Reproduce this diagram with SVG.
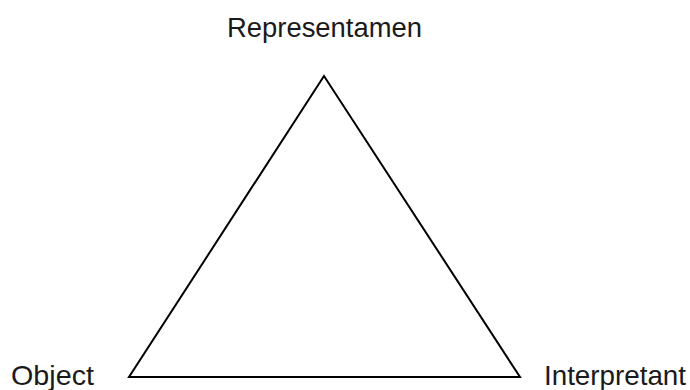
<svg xmlns="http://www.w3.org/2000/svg" width="690" height="390" viewBox="0 0 690 390">
<style>
.lbl{font-family:"Liberation Sans",Arial,sans-serif;font-size:27.5px;fill:#1a1a1a}
.edge{fill:none;stroke:#000;stroke-width:2;stroke-linejoin:miter}
</style>
<rect width="690" height="390" fill="#fff"/>
<g id="connectors">
<path class="edge" d="M324,76 L129,377 L520,377 Z"/>
</g>
<g id="representamen"><text class="lbl" x="324.5" y="37" text-anchor="middle" textLength="195" lengthAdjust="spacingAndGlyphs">Representamen</text></g>
<g id="object"><text class="lbl" x="11" y="385" textLength="83" lengthAdjust="spacingAndGlyphs">Object</text></g>
<g id="interpretant"><text class="lbl" x="544" y="385" textLength="142" lengthAdjust="spacingAndGlyphs">Interpretant</text></g>
</svg>
